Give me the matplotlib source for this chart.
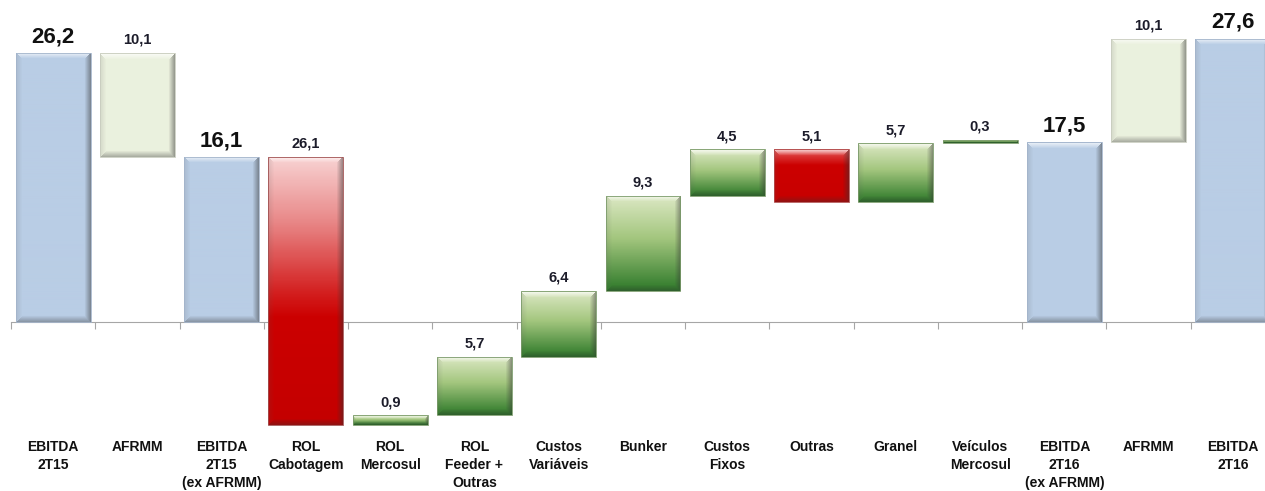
import numpy as np
import matplotlib
matplotlib.use('Agg')
from matplotlib import pyplot as plt
from matplotlib.colors import LinearSegmentedColormap

categories = ['EBITDA\n2T15', 'AFRMM', 'EBITDA\n2T15\n(ex AFRMM)', 'ROL\nCabotagem',
              'ROL\nMercosul', 'ROL\nFeeder +\nOutras', 'Custos\nVariáveis', 'Bunker',
              'Custos\nFixos', 'Outras', 'Granel', 'Veículos\nMercosul',
              'EBITDA\n2T16\n(ex AFRMM)', 'AFRMM', 'EBITDA\n2T16']
values = [26.2, -10.1, 16.1, -26.1, 0.9, 5.7, 6.4, 9.3, 4.5, -5.1, 5.7, 0.3, 17.5, 10.1, 27.6]
kinds = ['total', 'afrmm', 'total', 'cabot', 'green', 'green', 'green', 'green',
         'green', 'red', 'green', 'green', 'total', 'afrmm', 'total']

cmaps = {
    'total': LinearSegmentedColormap.from_list('t', ['#B9CDE5', '#B9CDE5']),
    'afrmm': LinearSegmentedColormap.from_list('a', ['#EBF1DE', '#EBF1DE']),
    'green': LinearSegmentedColormap.from_list('g', [(0, '#DCE8C4'), (0.45, '#A3C67E'), (1, '#2F7A2A')]),
    'cabot': LinearSegmentedColormap.from_list('c', [(0, '#F8D3D3'), (0.25, '#E88585'),
                                                     (0.5, '#D42222'), (0.6, '#CC0000'), (1, '#C40000')]),
    'red': LinearSegmentedColormap.from_list('r', [(0, '#E45A5A'), (0.3, '#CC0000'), (1, '#C80000')]),
}
edges = {'total': '#A3B4CB', 'afrmm': '#C9CCBF', 'green': '#7A9A6A', 'cabot': '#A05050', 'red': '#B05050'}

# waterfall bottoms
level = 0
bottoms = []
for v, k in zip(values, kinds):
    if k == 'total':
        bottoms.append(0)
        level = v
    else:
        bottoms.append(level)
        level += v

W, H = 1265, 491
fig = plt.figure(figsize=(W / 100, H / 100), dpi=100)
ax = fig.add_axes([11 / W, 0, 1264 / W, 1])
ax.set_xlim(-0.5, 14.5)
ax.set_ylim(-16.46, 31.35)
ax.set_facecolor('none')

x = np.arange(len(values))
bars = ax.bar(x, values, bottom=bottoms, width=0.89, color='none', edgecolor='none', zorder=2)


def bevel_image(h, w, cmap, b=6):
    yy = np.linspace(0, 1, h)[:, None]
    base = cmap(np.repeat(yy, w, axis=1))[..., :3]
    y = np.arange(h)[:, None] * np.ones((1, w))
    xx = np.ones((h, 1)) * np.arange(w)[None, :]
    d = np.stack([y, xx, w - 1 - xx, h - 1 - y])  # top, left, right, bottom
    near = np.argmin(d, axis=0)
    mind = np.min(d, axis=0)
    img = base.copy()
    fade = np.clip(1 - mind / b, 0, 1)
    mix = [(1, 0.75), (0.35, 0.15), (0.2, 0.45), (0.2, 0.35)]
    for i, (target, f) in enumerate(mix):
        m = near == i
        ff = (fade * f)[m][:, None]
        if i == 0:
            # thin grey rim then white highlight
            ff = np.where(mind[m][:, None] < 1, 0.1, ff)
        img[m] = img[m] * (1 - ff) + target * ff
    return np.clip(img, 0, 1)


for bar, k in zip(bars, kinds):
    x0, w = bar.get_x(), bar.get_width()
    y0 = min(bar.get_y(), bar.get_y() + bar.get_height())
    y1 = max(bar.get_y(), bar.get_y() + bar.get_height())
    p0 = ax.transData.transform((x0, y0))
    p1 = ax.transData.transform((x0 + w, y1))
    wp = max(int(round(p1[0] - p0[0])), 2)
    hp = max(int(round(p1[1] - p0[1])), 2)
    img = bevel_image(hp, wp, cmaps[k], b=min(6, max(1, hp // 3)))
    im = ax.imshow(img, extent=[x0, x0 + w, y0, y1], origin='upper', aspect='auto',
                   interpolation='bilinear', zorder=2)
    im.set_clip_path(bar)
    bar.set_edgecolor(edges[k])
    bar.set_linewidth(0.6)
    bar.set_zorder(3)

ax.set_xlim(-0.5, 14.5)
ax.set_ylim(-16.46, 31.35)

# value labels
for i, (v, b, k) in enumerate(zip(values, bottoms, kinds)):
    top = max(b, b + v)
    txt = f'{abs(v):.1f}'.replace('.', ',')
    if k == 'total':
        ax.annotate(txt, (i, top), xytext=(0, 4), textcoords='offset points', ha='center',
                    va='bottom', fontsize=16, fontweight='bold', color='#111111',
                    family=['Liberation Sans', 'DejaVu Sans'])
    else:
        ax.annotate(txt, (i, top), xytext=(0, 4.5), textcoords='offset points', ha='center',
                    va='bottom', fontsize=10.5, fontweight='bold', color='#1c1c2a',
                    family=['Liberation Sans', 'DejaVu Sans'])

# category labels
for i, c in enumerate(categories):
    ax.text(i, -11.5, c, ha='center', va='top', fontsize=10, fontweight='bold',
            linespacing=1.37, color='#111111',
            family=['Liberation Sans Narrow', 'Liberation Sans', 'DejaVu Sans'])

for s in ['top', 'right', 'left']:
    ax.spines[s].set_visible(False)
ax.spines['bottom'].set_position(('data', 0))
ax.spines['bottom'].set_color('#A6A6A6')
ax.spines['bottom'].set_zorder(1)
ax.set_xticks(np.arange(-0.5, 15, 1))
ax.tick_params(axis='x', direction='out', length=5, color='#A6A6A6', labelbottom=False)
ax.set_yticks([])

fig.savefig('out.png', dpi=100)
